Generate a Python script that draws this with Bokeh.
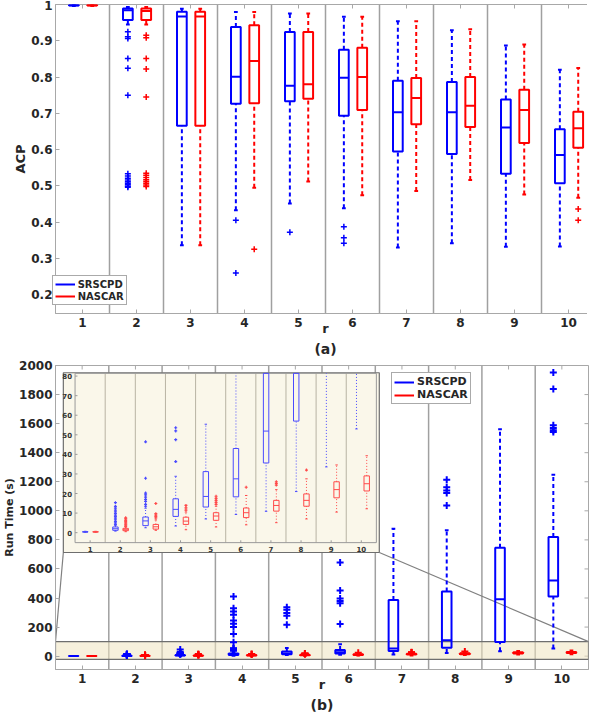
import numpy as np
from bokeh.plotting import figure
from bokeh.layouts import column
from bokeh.models import Range1d, FixedTicker, Span, Legend, LegendItem, Title
from bokeh.core.properties import value
from bokeh.embed import file_html
from bokeh.resources import INLINE

# ---------------- data ----------------
r_values = [1, 2, 3, 4, 5, 6, 7, 8, 9, 10]
series_names = ["SRSCPD", "NASCAR"]

acp_ticks = [0.2, 0.3, 0.4, 0.5, 0.6, 0.7, 0.8, 0.9, 1.0]
runtime_ticks = [0, 200, 400, 600, 800, 1000, 1200, 1400, 1600, 1800, 2000]
inset_ticks = [0, 10, 20, 30, 40, 50, 60, 70, 80]

# (a) ACP, SRSCPD
acp_srs_low = [0.996, 0.945, 0.336, 0.433, 0.451, 0.438, 0.330, 0.342, 0.332, 0.333]
acp_srs_q1 = [0.997, 0.957, 0.666, 0.726, 0.733, 0.693, 0.595, 0.588, 0.533, 0.507]
acp_srs_med = [0.998, 0.984, 0.967, 0.801, 0.776, 0.798, 0.703, 0.703, 0.661, 0.585]
acp_srs_q3 = [0.999, 0.989, 0.980, 0.938, 0.924, 0.875, 0.790, 0.786, 0.738, 0.656]
acp_srs_high = [1.000, 0.993, 0.988, 0.979, 0.975, 0.966, 0.954, 0.929, 0.887, 0.820]
acp_srs_out = [[], [0.925, 0.911, 0.906, 0.851, 0.824, 0.750, 0.533, 0.527, 0.521,
                    0.516, 0.511, 0.507, 0.503, 0.499, 0.496],
               [], [0.405, 0.260], [0.372], [0.387, 0.357, 0.342], [], [], [], []]

# (a) ACP, NASCAR
acp_nas_low = [0.996, 0.945, 0.336, 0.495, 0.512, 0.474, 0.486, 0.516, 0.476, 0.467]
acp_nas_q1 = [0.997, 0.957, 0.666, 0.728, 0.740, 0.709, 0.670, 0.662, 0.618, 0.605]
acp_nas_med = [0.998, 0.982, 0.967, 0.844, 0.780, 0.800, 0.742, 0.721, 0.709, 0.659]
acp_nas_q3 = [0.999, 0.989, 0.980, 0.943, 0.924, 0.881, 0.797, 0.800, 0.765, 0.704]
acp_nas_high = [1.000, 0.993, 0.988, 0.979, 0.975, 0.966, 0.954, 0.932, 0.890, 0.825]
acp_nas_out = [[], [0.915, 0.908, 0.851, 0.822, 0.745, 0.535, 0.529, 0.523, 0.517,
                    0.512, 0.507, 0.502, 0.498],
               [], [0.325], [], [], [], [], [], [0.436, 0.405]]

# (b) Run time (s), SRSCPD
rt_srs_low = [0.2, 0.8, 2.5, 3.4, 7.0, 9.3, 10.9, 21.0, 33.6, 53.0]
rt_srs_q1 = [0.3, 1.2, 3.6, 8.3, 13.1, 18.3, 35.6, 57.0, 98.0, 410.0]
rt_srs_med = [0.4, 2.0, 6.0, 11.9, 18.5, 27.5, 51.9, 109.0, 392.0, 521.0]
rt_srs_q3 = [0.5, 2.9, 8.0, 17.3, 31.2, 43.0, 387.0, 444.0, 745.0, 820.0]
rt_srs_high = [0.7, 3.6, 12.5, 28.8, 55.4, 82.0, 877.0, 866.0, 1561.0, 1248.0]
rt_srs_out = [[], [4.2, 5.0, 5.8, 6.6, 7.4, 8.2, 9.0, 9.8, 10.6, 11.5, 12.5, 13.4, 15.3],
              [13.5, 14.5, 16.0, 17.0, 18.2, 19.3, 20.2, 27.8, 46.4],
              [36.3, 47.5, 52.0, 53.6, 96, 152, 200, 223, 246, 284, 307, 330, 410],
              [216, 278, 296, 319, 337],
              [221, 364, 380, 396, 451, 644],
              [], [1036, 1123, 1139, 1162, 1214], [],
              [1542, 1555, 1570, 1588, 1838, 1952]]

# (b) Run time (s), NASCAR
rt_nas_low = [0.2, 0.5, 1.2, 1.5, 2.9, 4.0, 5.1, 7.0, 10.5, 12.2]
rt_nas_q1 = [0.3, 1.0, 1.8, 4.2, 6.3, 7.7, 11.0, 13.5, 17.8, 21.3]
rt_nas_med = [0.4, 1.5, 3.0, 5.9, 8.5, 10.2, 13.9, 16.5, 22.0, 25.0]
rt_nas_q3 = [0.5, 2.2, 4.2, 7.9, 10.2, 12.6, 16.5, 19.8, 26.0, 29.0]
rt_nas_high = [0.7, 2.8, 6.5, 10.5, 13.5, 19.0, 22.0, 27.5, 34.6, 39.3]
rt_nas_out = [[], [3.2, 3.8, 4.4, 5.0, 5.6, 6.3, 7.0, 7.6],
              [7.5, 8.2, 9.0, 9.7, 14.9], [11.5, 12.7, 13.9],
              [14.5, 15.5, 16.5, 17.5, 18.6], [23.2], [24.3, 25.2, 26.0], [32.0], [], []]

# ---------------- style ----------------
FONT = "DejaVu Sans"
BLUE = "#0000ff"
RED = "#ff0000"
INS_BLUE = "#4a4aff"
INS_RED = "#ff4a4a"
AX_COL = "#a8a8a8"
TXT_COL = "#262626"
SEP_COL = "#a0a0a0"
OFF_SRS, OFF_NAS = -0.16, 0.18
BOX_W, CAP_W = 0.18, 0.07
TICK_PX = 4


def draw_boxes(api, xs, stats, outs, color, box_w, cap_w, width, dash,
               msize, mwidth, hi=None):
    lw, q1, med, q3, uw = [np.asarray(s, float) for s in stats]
    xs = np.asarray(xs, float)
    lim = np.inf if hi is None else hi
    api.segment(x0=list(xs), y0=list(lw), x1=list(xs), y1=list(np.minimum(q1, lim)),
                line_color=color, line_width=width, line_dash=dash)
    api.segment(x0=list(xs - cap_w / 2), y0=list(lw), x1=list(xs + cap_w / 2), y1=list(lw),
                line_color=color, line_width=width)
    m = q3 < lim
    api.segment(x0=list(xs[m]), y0=list(q3[m]), x1=list(xs[m]), y1=list(np.minimum(uw[m], lim)),
                line_color=color, line_width=width, line_dash=dash)
    mc = uw < lim
    api.segment(x0=list(xs[mc] - cap_w / 2), y0=list(uw[mc]), x1=list(xs[mc] + cap_w / 2),
                y1=list(uw[mc]), line_color=color, line_width=width)
    mb = q1 < lim
    api.quad(left=list(xs[mb] - box_w / 2), right=list(xs[mb] + box_w / 2),
             bottom=list(q1[mb]), top=list(np.minimum(q3[mb], lim)),
             fill_color=None, line_color=color, line_width=width)
    mm = med < lim
    med_r = api.segment(x0=list(xs[mm] - box_w / 2), y0=list(med[mm]),
                        x1=list(xs[mm] + box_w / 2), y1=list(med[mm]),
                        line_color=color, line_width=width)
    ox = [x for x, o in zip(xs, outs) for v in o if v < lim]
    oy = [v for o in outs for v in o if v < lim]
    api.scatter(x=ox, y=oy, marker="cross", size=msize, line_color=color, line_width=mwidth)
    return med_r


def style_axes(p, yticks, label_y, ylabel_size, x0, x1, y0, y1, fw, fh):
    p.xaxis.ticker = FixedTicker(ticks=r_values)
    p.yaxis.ticker = FixedTicker(ticks=yticks)
    for ax in (p.xaxis[0], p.yaxis[0]):
        ax.axis_line_color = AX_COL
        ax.major_tick_line_color = AX_COL
        ax.minor_tick_line_color = None
        ax.major_tick_in = TICK_PX
        ax.major_tick_out = 0
        ax.major_label_text_font = FONT
        ax.major_label_text_font_style = "bold"
        ax.major_label_text_font_size = "12px"
        ax.major_label_text_color = TXT_COL
        ax.axis_label_text_font = FONT
        ax.axis_label_text_font_style = "bold"
        ax.axis_label_text_color = TXT_COL
    p.xaxis.major_label_standoff = 4
    p.yaxis.major_label_standoff = 3
    p.xaxis.axis_label = "r"
    p.xaxis.axis_label_text_font_size = "13px"
    p.xaxis.axis_label_standoff = -9
    p.yaxis.axis_label = label_y
    p.yaxis.axis_label_text_font_size = ylabel_size
    p.yaxis.axis_label_standoff = 0
    p.xgrid.visible = False
    p.ygrid.visible = False
    p.outline_line_color = AX_COL
    for s in np.asarray(r_values[:-1]) + 0.5:
        p.add_layout(Span(location=float(s), dimension="height", line_color=SEP_COL,
                          line_width=1.5, level="underlay"))
    # mirrored tick marks on the top and right edges of the box
    dy = TICK_PX * (y1 - y0) / fh
    dx = TICK_PX * (x1 - x0) / fw
    p.segment(x0=r_values, y0=[y1] * len(r_values), x1=r_values, y1=[y1 - dy] * len(r_values),
              line_color=AX_COL, line_width=1)
    p.segment(x0=[x1] * len(yticks), y0=yticks, x1=[x1 - dx] * len(yticks), y1=yticks,
              line_color=AX_COL, line_width=1)


def add_legend(p, renderers, loc, fsize):
    items = [LegendItem(label=n, renderers=[r]) for n, r in zip(series_names, renderers)]
    lg = Legend(items=items, location=loc, label_text_font=FONT,
                label_text_font_style="bold", label_text_font_size=fsize,
                label_text_color=TXT_COL, border_line_color="#555555",
                border_line_width=1, padding=2, spacing=0, margin=0,
                glyph_width=20, glyph_height=12, label_height=12, label_standoff=3,
                background_fill_color="white", background_fill_alpha=1.0)
    p.add_layout(lg)


def add_caption(p, text):
    p.add_layout(Title(text=text, align="center", text_font=FONT, text_font_style="bold",
                       text_font_size="14px", text_color=TXT_COL, standoff=0), "below")


xs_srs = np.asarray(r_values) + OFF_SRS
xs_nas = np.asarray(r_values) + OFF_NAS

# ---------------- panel (a) ----------------
FWA, FHA = 540, 309
AY0, AY1 = 0.148, 1.0
pa = figure(frame_width=FWA, frame_height=FHA, x_range=Range1d(0.5, 10.5),
            y_range=Range1d(AY0, AY1), output_backend="svg", toolbar_location=None,
            min_border_left=0, min_border_right=2, min_border_top=4, min_border_bottom=0)
style_axes(pa, acp_ticks, "ACP", "13px", 0.5, 10.5, AY0, AY1, FWA, FHA)
pa.yaxis[0].major_label_overrides = {1: "1"}
ra = draw_boxes(pa, xs_srs, [acp_srs_low, acp_srs_q1, acp_srs_med, acp_srs_q3, acp_srs_high],
                acp_srs_out, BLUE, BOX_W, CAP_W, 2, "4 3", 6, 1.5)
rb = draw_boxes(pa, xs_nas, [acp_nas_low, acp_nas_q1, acp_nas_med, acp_nas_q3, acp_nas_high],
                acp_nas_out, RED, BOX_W, CAP_W, 2, "4 3", 6, 1.5)
add_legend(pa, [ra, rb], (6, 8), "10px")
add_caption(pa, "(a)")

# ---------------- panel (b) ----------------
FWB, FHB = 533, 304
BY0, BY1 = -92, 2000
pb = figure(frame_width=FWB, frame_height=FHB, x_range=Range1d(0.5, 10.5),
            y_range=Range1d(BY0, BY1), output_backend="svg", toolbar_location=None,
            min_border_left=0, min_border_right=2, min_border_top=9, min_border_bottom=0)
style_axes(pb, runtime_ticks, "Run Time (s)", "11px", 0.5, 10.5, BY0, BY1, FWB, FHB)

# zoom band (the inset's data window)
BAND_LO, BAND_HI = -22, 100
pb.quad(left=0.5, right=10.5, bottom=BAND_LO, top=BAND_HI, fill_color="#eee4c0",
        fill_alpha=0.55, line_color="#6e6e6e", line_width=1.2)

# inset placement (parent data coords)
IN_X0, IN_X1 = 0.867, 6.52
IN_Y0, IN_Y1 = 781, 1946
OUT_X0, OUT_X1, OUT_Y0, OUT_Y1 = 0.647, 6.575, 713, 1950
pb.segment(x0=[0.5, 10.5], y0=[BAND_HI, BAND_HI], x1=[OUT_X0, OUT_X1], y1=[OUT_Y0, OUT_Y0],
           line_color="#808080", line_width=1.2)

rc = draw_boxes(pb, xs_srs, [rt_srs_low, rt_srs_q1, rt_srs_med, rt_srs_q3, rt_srs_high],
                rt_srs_out, BLUE, BOX_W, CAP_W, 2, "4 3", 7, 2)
rd = draw_boxes(pb, xs_nas, [rt_nas_low, rt_nas_q1, rt_nas_med, rt_nas_q3, rt_nas_high],
                rt_nas_out, RED, BOX_W, CAP_W, 2, "4 3", 7, 2)

# inset background
pb.quad(left=OUT_X0, right=OUT_X1, bottom=OUT_Y0, top=OUT_Y1, fill_color="#faf7ea",
        line_color="#6e6e6e", line_width=1.2)

IY0, IY1 = -5.1, 81.4
ins = pb.subplot(x_source=Range1d(0.5, 10.5), y_source=Range1d(IY0, IY1),
                 x_target=Range1d(IN_X0, IN_X1), y_target=Range1d(IN_Y0, IN_Y1))
seps = list(np.asarray(r_values[:-1]) + 0.5)
ins.segment(x0=seps, y0=[IY0] * len(seps), x1=seps, y1=[IY1] * len(seps),
            line_color="#b8b3a3", line_width=1)
ins.quad(left=0.5, right=10.5, bottom=IY0, top=IY1, fill_color=None,
         line_color="#9a9a9a", line_width=1)
ins.segment(x0=[0.5] * len(inset_ticks), y0=inset_ticks, x1=[0.58] * len(inset_ticks),
            y1=inset_ticks, line_color="#9a9a9a", line_width=1)
ins.segment(x0=r_values, y0=[IY0] * 10, x1=r_values, y1=[IY0 + 1.2] * 10,
            line_color="#9a9a9a", line_width=1)
ins.text(x=[0.5] * len(inset_ticks), y=inset_ticks, text=[str(t) for t in inset_ticks],
         x_offset=-3, text_align="right", text_baseline="middle",
         text_font=value(FONT), text_font_style="bold", text_font_size="7px", text_color="#333333")
ins.text(x=r_values, y=[IY0] * 10, text=[str(r) for r in r_values], y_offset=3,
         text_align="center", text_baseline="top",
         text_font=value(FONT), text_font_style="bold", text_font_size="7px", text_color="#333333")
draw_boxes(ins, xs_srs, [rt_srs_low, rt_srs_q1, rt_srs_med, rt_srs_q3, rt_srs_high],
           rt_srs_out, INS_BLUE, BOX_W, 0.08, 1, "1 2", 3, 1.2, hi=IY1)
draw_boxes(ins, xs_nas, [rt_nas_low, rt_nas_q1, rt_nas_med, rt_nas_q3, rt_nas_high],
           rt_nas_out, INS_RED, BOX_W, 0.08, 1, "1 2", 3, 1.2, hi=IY1)

add_legend(pb, [rc, rd], (int(0.631 * FWB), FHB - 9 - 30), "11px")
add_caption(pb, "(b)")

layout = column(pa, pb, spacing=0)
open("out.html", "w").write(file_html(layout, INLINE))
